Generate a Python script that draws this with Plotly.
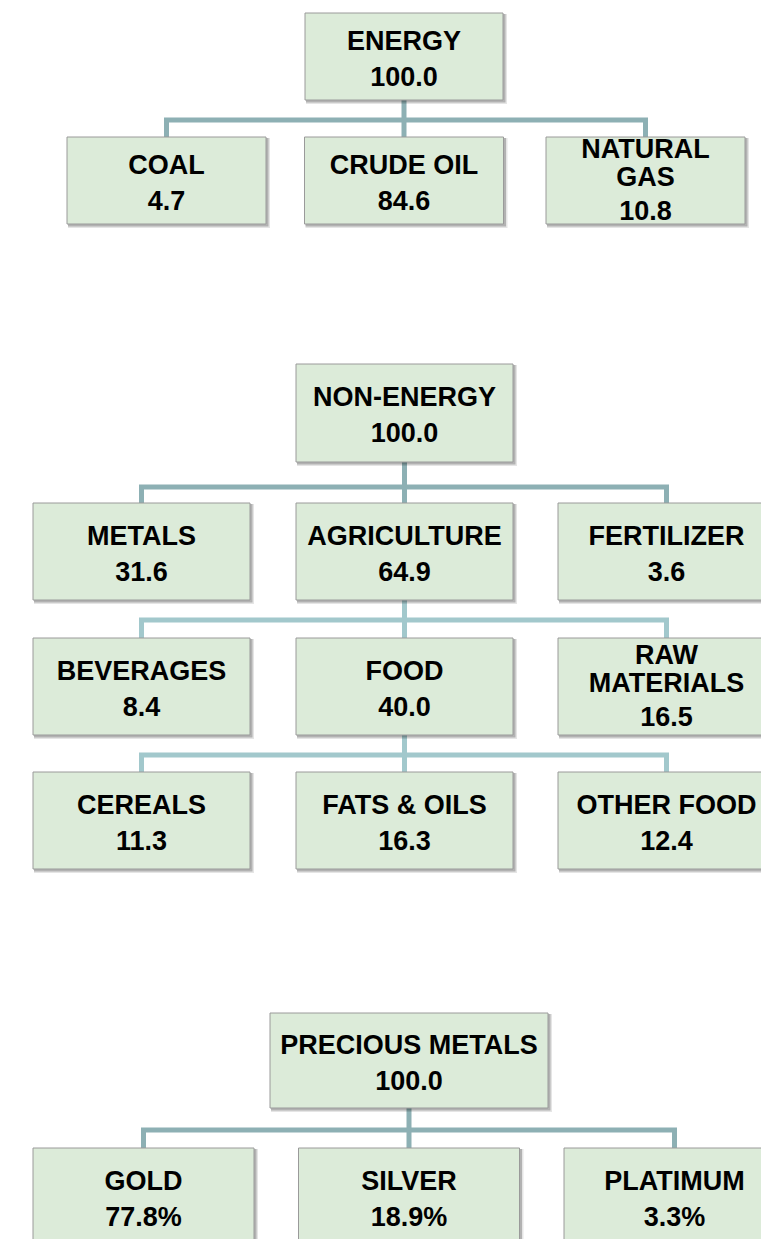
import plotly.graph_objects as go

# ---------------- data ----------------
energy_labels = ["ENERGY", "COAL", "CRUDE OIL", "NATURAL GAS"]
energy_values = [100.0, 4.7, 84.6, 10.8]

nonenergy_labels = ["NON-ENERGY", "METALS", "AGRICULTURE", "FERTILIZER"]
nonenergy_values = [100.0, 31.6, 64.9, 3.6]

agriculture_labels = ["BEVERAGES", "FOOD", "RAW MATERIALS"]
agriculture_values = [8.4, 40.0, 16.5]

food_labels = ["CEREALS", "FATS & OILS", "OTHER FOOD"]
food_values = [11.3, 16.3, 12.4]

precious_labels = ["PRECIOUS METALS", "GOLD", "SILVER", "PLATIMUM"]
precious_values = [100.0, 77.8, 18.9, 3.3]

wrapped_labels = ["NATURAL GAS", "RAW MATERIALS"]

# ---------------- layout geometry (pixels) ----------------
W, H = 761, 1239
FILL = "#dcebd9"
BORDER = "#9a9a9a"
LINE_DARK = "#8db0b4"
LINE_LIGHT = "#a2c8cc"
FONT = "Liberation Sans, Arial, sans-serif"
FSIZE = 27

# each family: parent box (cx, top, w, h), child centres, child top, child w, child h, bus y, colour
families = [
    dict(labels=energy_labels, values=energy_values, suffix="",
         parent=(404, 13, 198, 87), kids=[166.5, 404, 645.5], ktop=137, kw=199, kh=87,
         bus=120, color=LINE_DARK, draw_parent=True),
    dict(labels=nonenergy_labels, values=nonenergy_values, suffix="",
         parent=(404.5, 364, 217, 98), kids=[141.5, 404.5, 666.5], ktop=503, kw=217, kh=97,
         bus=487, color=LINE_DARK, draw_parent=True),
    dict(labels=[None] + agriculture_labels, values=[None] + agriculture_values, suffix="",
         parent=(404.5, 503, 217, 97), kids=[141.5, 404.5, 666.5], ktop=638, kw=217, kh=97,
         bus=620, color=LINE_LIGHT, draw_parent=False),
    dict(labels=[None] + food_labels, values=[None] + food_values, suffix="",
         parent=(404.5, 638, 217, 97), kids=[141.5, 404.5, 666.5], ktop=772, kw=217, kh=97,
         bus=755, color=LINE_LIGHT, draw_parent=False),
    dict(labels=precious_labels, values=precious_values, suffix="%",
         parent=(409, 1013, 278, 95), kids=[143.5, 409, 674.5], ktop=1148, kw=221, kh=97,
         bus=1130, color=LINE_DARK, draw_parent=True),
]

connector_shapes = []
shadow_shapes = []
box_shapes = []
tx, ty, tt = [], [], []


def add_box(cx, top, w, h, label, value_text):
    x0, x1, y0, y1 = cx - w / 2, cx + w / 2, top, top + h
    shadow_shapes.append(dict(type="rect", xref="x", yref="y", x0=x0 + 1, x1=x1 + 4,
                              y0=y0 + 1, y1=y1 + 4, fillcolor="rgba(0,0,0,0.10)",
                              line=dict(width=0), layer="below"))
    shadow_shapes.append(dict(type="rect", xref="x", yref="y", x0=x0 + 1, x1=x1 + 2.5,
                              y0=y0 + 1, y1=y1 + 2.5, fillcolor="rgba(0,0,0,0.22)",
                              line=dict(width=0), layer="below"))
    box_shapes.append(dict(type="rect", xref="x", yref="y", x0=x0, x1=x1, y0=y0, y1=y1,
                           fillcolor=FILL, line=dict(color=BORDER, width=1), layer="below"))
    cy = top + h / 2
    if label in wrapped_labels:
        parts = label.split(" ")
        offs = [-29, -1]
        for p, o in zip(parts, offs):
            tx.append(cx); ty.append(cy + o); tt.append(p)
        tx.append(cx); ty.append(cy + 33); tt.append(value_text)
    else:
        tx.append(cx); ty.append(cy - 13.5); tt.append(label)
        tx.append(cx); ty.append(cy + 22.5); tt.append(value_text)


for fam in families:
    pcx, ptop, pw, ph = fam["parent"]
    kids = fam["kids"]
    bus = fam["bus"]
    path = f"M {pcx},{ptop + ph} V {bus} M {kids[0] - 2.5},{bus} H {kids[-1] + 2.5}"
    for k in kids:
        path += f" M {k},{bus} V {fam['ktop']}"
    connector_shapes.append(dict(type="path", xref="x", yref="y", path=path,
                                 line=dict(color=fam["color"], width=5), layer="below"))
    if fam["draw_parent"]:
        add_box(pcx, ptop, pw, ph, fam["labels"][0], f"{fam['values'][0]:.1f}")
    for k, lab, val in zip(kids, fam["labels"][1:], fam["values"][1:]):
        add_box(k, fam["ktop"], fam["kw"], fam["kh"], lab, f"{val:.1f}{fam['suffix']}")

fig = go.Figure()
fig.add_trace(go.Scatter(
    x=tx, y=ty, text=tt, mode="text", textposition="middle center",
    textfont=dict(family=FONT, size=FSIZE, color="#000000", weight="bold"),
    hoverinfo="skip", showlegend=False,
))

fig.update_layout(
    width=W, height=H,
    margin=dict(l=0, r=0, t=0, b=0),
    paper_bgcolor="white", plot_bgcolor="white",
    shapes=connector_shapes + shadow_shapes + box_shapes,
    xaxis=dict(range=[0, W], visible=False, fixedrange=True),
    yaxis=dict(range=[H, 0], visible=False, fixedrange=True),
    showlegend=False,
)

fig.write_html(
    "out.html",
    config={"displayModeBar": False},
    post_script="document.body.style.margin='0';"
                "document.documentElement.style.overflow='hidden';"
                "document.body.style.overflow='hidden';",
)
